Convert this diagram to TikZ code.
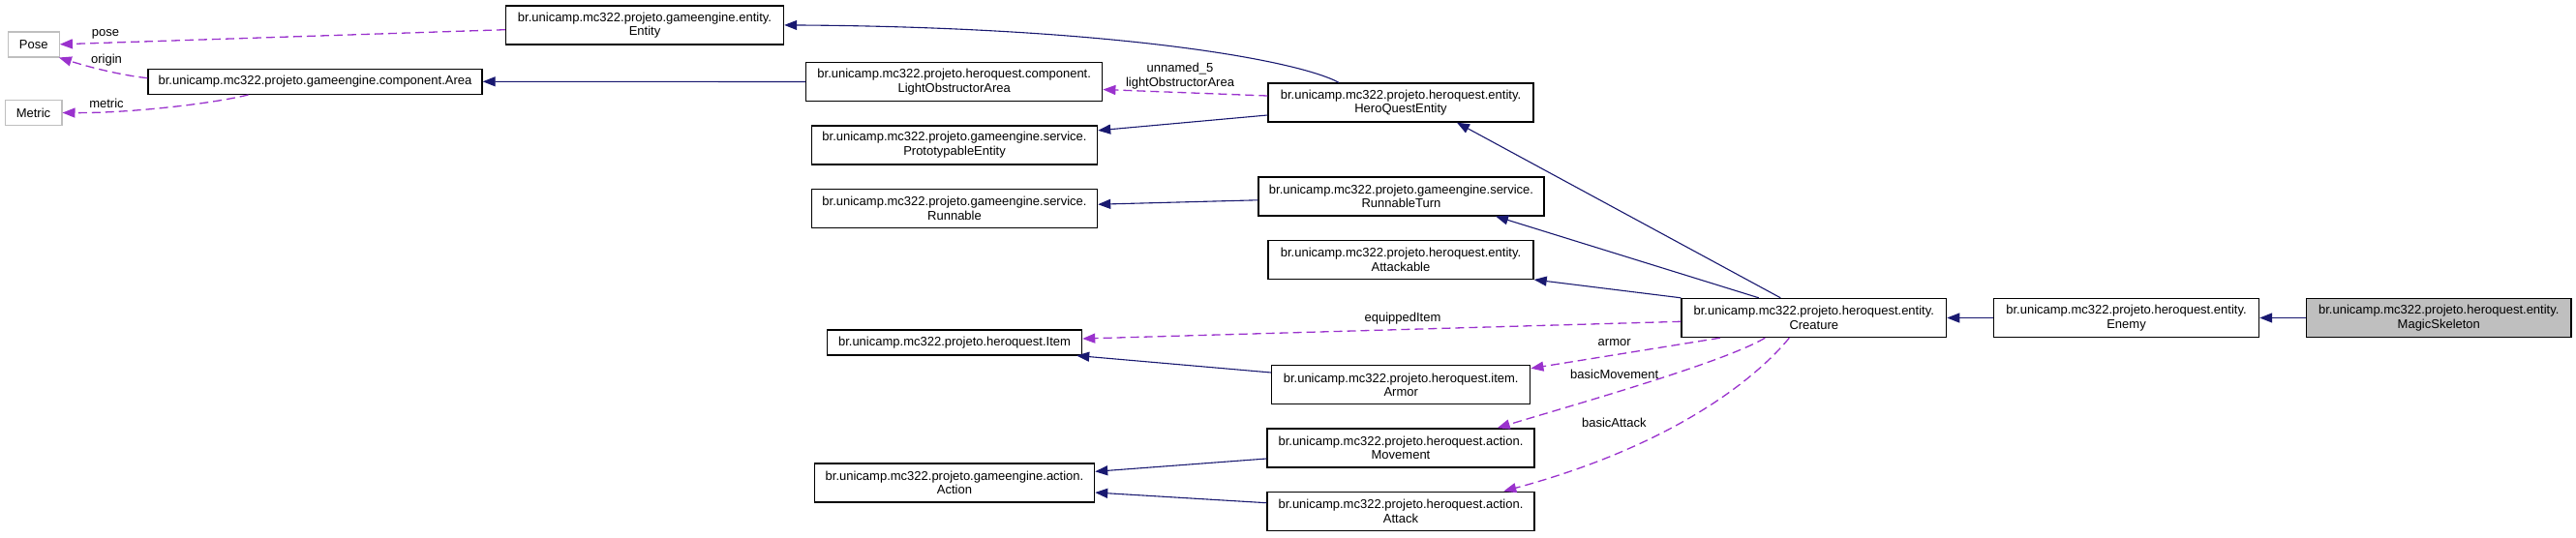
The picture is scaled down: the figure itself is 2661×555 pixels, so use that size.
\documentclass[tikz,border=0pt]{standalone}
\usepackage{fontspec}
\setmainfont{Liberation Sans}
\usetikzlibrary{arrows.meta}
\definecolor{navyline}{HTML}{191970}
\definecolor{orchidline}{HTML}{9A32CD}
\definecolor{shadefill}{HTML}{BFBFBF}
\definecolor{greyborder}{HTML}{BFBFBF}
\begin{document}
\begin{tikzpicture}[x=1pt,y=-1pt,
  box/.style={draw=black, line width=1.4pt, fill=white, align=center, inner sep=0pt,
    font=\fontsize{13}{14.5}\selectfont},
  twoline/.style={box, minimum height=40pt},
  oneline/.style={box, minimum height=26pt},
  extbox/.style={box, draw=greyborder, minimum height=26pt},
  lbl/.style={font=\fontsize{13}{14.5}\selectfont, align=center, inner sep=0pt},
  inherit/.style={draw=navyline, line width=1.1pt, -{Triangle[length=13pt,width=10pt]}},
  usage/.style={draw=orchidline, line width=1.3pt, dash pattern=on 9pt off 5pt,
    -{Triangle[length=13pt,width=10pt]}}
]
\useasboundingbox (0,0) rectangle (2661,555);

% nodes
\node[extbox, minimum width=52.8pt] (pose) at (34.8,45.8) {Pose};
\node[extbox, minimum width=58.6pt] (metric) at (34.5,116.5) {Metric};
\node[twoline, minimum width=287pt] (entity) at (666,25.9) {br.unicamp.mc322.projeto.gameengine.entity.\\Entity};
\node[oneline, minimum width=345pt] (area) at (325.5,84.3) {br.unicamp.mc322.projeto.gameengine.component.Area};
\node[twoline, minimum width=306pt] (loa) at (985.7,84.5) {br.unicamp.mc322.projeto.heroquest.component.\\LightObstructorArea};
\node[twoline, minimum width=295pt] (proto) at (986,149.8) {br.unicamp.mc322.projeto.gameengine.service.\\PrototypableEntity};
\node[twoline, minimum width=295pt] (runnable) at (986,215.2) {br.unicamp.mc322.projeto.gameengine.service.\\Runnable};
\node[twoline, minimum width=274pt] (hqe) at (1447,106) {br.unicamp.mc322.projeto.heroquest.entity.\\HeroQuestEntity};
\node[twoline, minimum width=295pt] (rturn) at (1447.5,202.8) {br.unicamp.mc322.projeto.gameengine.service.\\RunnableTurn};
\node[twoline, minimum width=274pt] (attackable) at (1447,268.3) {br.unicamp.mc322.projeto.heroquest.entity.\\Attackable};
\node[oneline, minimum width=263pt] (item) at (986,353.8) {br.unicamp.mc322.projeto.heroquest.Item};
\node[twoline, minimum width=267pt] (armor) at (1447.2,397.7) {br.unicamp.mc322.projeto.heroquest.item.\\Armor};
\node[twoline, minimum width=276pt] (movement) at (1447,463) {br.unicamp.mc322.projeto.heroquest.action.\\Movement};
\node[twoline, minimum width=289pt] (action) at (986,499) {br.unicamp.mc322.projeto.gameengine.action.\\Action};
\node[twoline, minimum width=276pt] (attack) at (1447,528.3) {br.unicamp.mc322.projeto.heroquest.action.\\Attack};
\node[twoline, minimum width=273.5pt] (creature) at (1873.8,328.5) {br.unicamp.mc322.projeto.heroquest.entity.\\Creature};
\node[twoline, minimum width=274pt] (enemy) at (2196.5,328.5) {br.unicamp.mc322.projeto.heroquest.entity.\\Enemy};
\node[twoline, minimum width=273.5pt, fill=shadefill] (magic) at (2519.3,328.5) {br.unicamp.mc322.projeto.heroquest.entity.\\MagicSkeleton};

% inheritance
\draw[inherit] ([xshift=-64pt]hqe.north) .. controls (1340,62) and (1150,28) .. (entity.east);
\draw[inherit] (loa.west) -- (area.east);
\draw[inherit] ([yshift=-13pt]hqe.west) -- ([yshift=15pt]proto.east);
\draw[inherit] ([yshift=-4pt]rturn.west) -- ([yshift=4pt]runnable.east);
\draw[inherit] ([xshift=-34.5pt]creature.north) -- ([xshift=58pt]hqe.south);
\draw[inherit] ([xshift=-57pt]creature.north) -- ([xshift=97.5pt]rturn.south);
\draw[inherit] (creature.north west) -- (attackable.south east);
\draw[inherit] (enemy.west) -- (creature.east);
\draw[inherit] (magic.west) -- (enemy.west -| enemy.east);
\draw[inherit] ([yshift=12.7pt]armor.west) -- ([xshift=-6pt]item.south east);
\draw[inherit] ([yshift=-11pt]movement.west) -- ([yshift=11.7pt]action.east);
\draw[inherit] ([yshift=8.6pt]attack.west) -- ([yshift=-10pt]action.east);

% usage
\draw[usage] ([yshift=-4.8pt]entity.west) -- (pose.east);
\draw[usage] ([yshift=3.6pt]area.west) .. controls (120,77) and (88,68) .. ([xshift=-1pt]pose.south east);
\draw[usage] ([xshift=-69pt]area.south) .. controls (215,108) and (130,117) .. (metric.east);
\draw[usage] ([yshift=7pt]hqe.west) -- ([yshift=-8pt]loa.east);
\draw[usage] ([yshift=-3.8pt]creature.west) -- ([yshift=3.8pt]item.east);
\draw[usage] ([xshift=-97pt]creature.south) -- ([yshift=17pt]armor.east);
\draw[usage] ([xshift=-50.5pt]creature.south) .. controls (1780,375) and (1620,420) .. ([xshift=99.7pt]movement.north);
\draw[usage] ([xshift=-25.5pt]creature.south) .. controls (1815,390) and (1730,460) .. ([xshift=106.3pt]attack.north);

% labels
\node[lbl] (lpose) at (109,35) {pose};
\node[lbl] (lorigin) at (110,62) {origin};
\node[lbl] (lmetric) at (110,107) {metric};
\node[lbl] (lloa) at (1219,78.4) {unnamed\_5\\lightObstructorArea};
\node[lbl] (lequip) at (1449,329) {equippedItem};
\node[lbl] (larmor) at (1667.7,354) {armor};
\node[lbl] (lmove) at (1667.7,386.7) {basicMovement};
\node[lbl] (lattack) at (1667.3,436.7) {basicAttack};
\end{tikzpicture}
\end{document}
